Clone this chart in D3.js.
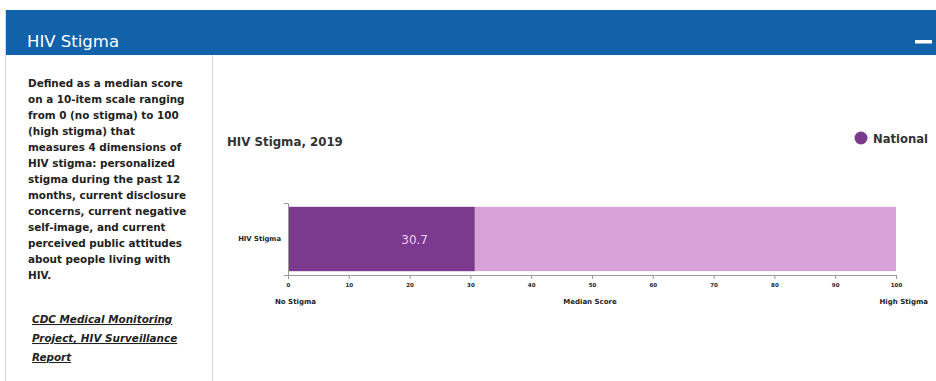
<!DOCTYPE html>
<html>
<head>
<meta charset="utf-8">
<script src="https://cdn.jsdelivr.net/npm/d3@7"></script>
<style>
  body { margin: 0; background: #fff; }
  svg { display: block; }
</style>
</head>
<body>
<svg id="chart" width="936" height="381"></svg>
<script>
// data
const categories = ['HIV Stigma'];
const nationalValues = [30.7];
const scaleMax = 100;
const xTicks = [0, 10, 20, 30, 40, 50, 60, 70, 80, 90, 100];
const seriesNames = ['National'];
const descLines = [
  'Defined as a median score',
  'on a 10-item scale ranging',
  'from 0 (no stigma) to 100',
  '(high stigma) that',
  'measures 4 dimensions of',
  'HIV stigma: personalized',
  'stigma during the past 12',
  'months, current disclosure',
  'concerns, current negative',
  'self-image, and current',
  'perceived public attitudes',
  'about people living with',
  'HIV.'
];
const linkLines = ['CDC Medical Monitoring', 'Project, HIV Surveillance', 'Report'];

const svg = d3.select('#chart');
const font = '"DejaVu Sans", Verdana, sans-serif';

// card + header
svg.append('rect')
  .attr('x', 5.5).attr('y', 10.5).attr('width', 940).attr('height', 380)
  .attr('fill', '#fff').attr('stroke', '#d6d6d6');
svg.append('rect')
  .attr('x', 6).attr('y', 10).attr('width', 930).attr('height', 45)
  .attr('fill', '#1162a9');
svg.append('text')
  .attr('x', 27).attr('y', 47)
  .attr('fill', '#fff').attr('font-family', font).attr('font-size', 16.5)
  .text('HIV Stigma');
svg.append('rect')
  .attr('x', 915).attr('y', 40).attr('width', 17).attr('height', 3.5)
  .attr('fill', '#fff');

// left panel
svg.append('line')
  .attr('x1', 212.5).attr('x2', 212.5).attr('y1', 55).attr('y2', 381)
  .attr('stroke', '#d6d6d6');

svg.append('g').selectAll('text')
  .data(descLines)
  .join('text')
  .attr('x', 28)
  .attr('y', (d, i) => 87 + i * 16)
  .attr('font-family', font).attr('font-weight', 700).attr('font-size', 10.4)
  .attr('fill', '#222')
  .text(d => d);

svg.append('g').selectAll('text')
  .data(linkLines)
  .join('text')
  .attr('x', 32)
  .attr('y', (d, i) => 323 + i * 19)
  .attr('font-family', font).attr('font-weight', 700).attr('font-style', 'italic')
  .attr('font-size', 10.4).attr('text-decoration', 'underline')
  .attr('fill', '#222')
  .text(d => d);

// chart
const x = d3.scaleLinear().domain([0, scaleMax]).range([288, 896]);
const y = d3.scaleBand().domain(categories).range([203, 275]).paddingInner(0).paddingOuter(0.06);

svg.append('text')
  .attr('x', 227).attr('y', 146)
  .attr('font-family', font).attr('font-weight', 700).attr('font-size', 11.8)
  .attr('fill', '#333')
  .text('HIV Stigma, 2019');

// legend
const legend = svg.append('g').selectAll('g').data(seriesNames).join('g');
legend.append('circle')
  .attr('cx', 861).attr('cy', 138).attr('r', 6.5)
  .attr('fill', '#7b3a8e');
legend.append('text')
  .attr('x', 873).attr('y', 142.5)
  .attr('font-family', font).attr('font-weight', 700).attr('font-size', 11.6)
  .attr('fill', '#333')
  .text(d => d);

// background bar (full scale)
svg.append('g').selectAll('rect')
  .data(categories)
  .join('rect')
  .attr('x', x(0)).attr('y', d => y(d))
  .attr('width', x(scaleMax) - x(0)).attr('height', y.bandwidth())
  .attr('fill', '#d9a3da');

// value bars
svg.append('g').selectAll('rect')
  .data(nationalValues)
  .join('rect')
  .attr('x', x(0)).attr('y', (d, i) => y(categories[i]))
  .attr('width', d => x(d) - x(0)).attr('height', y.bandwidth())
  .attr('fill', '#7b3a8e');

svg.append('g').selectAll('text')
  .data(nationalValues)
  .join('text')
  .attr('x', d => x(d) - 60)
  .attr('y', (d, i) => y(categories[i]) + y.bandwidth() / 2 + 4.5)
  .attr('text-anchor', 'middle')
  .attr('font-family', font).attr('font-size', 12)
  .attr('fill', '#e9cdee')
  .text(d => d.toFixed(1));

// axes
const xAxis = svg.append('g')
  .attr('transform', 'translate(0,275)')
  .call(d3.axisBottom(x).tickValues(xTicks).tickSize(4).tickPadding(4));
xAxis.select('.domain').attr('stroke', '#999');
xAxis.selectAll('.tick line').attr('stroke', '#999');
xAxis.selectAll('text').attr('font-family', font).attr('font-weight', 700)
  .attr('font-size', 5.5).attr('fill', '#222');

const yAxis = svg.append('g')
  .attr('transform', 'translate(288,0)')
  .call(d3.axisLeft(y).tickSize(0).tickPadding(7));
yAxis.select('.domain').attr('stroke', '#999')
  .attr('d', 'M-4,203.5H0.5V275.5H-4');
yAxis.selectAll('text').attr('font-family', font).attr('font-weight', 700)
  .attr('font-size', 6.8).attr('fill', '#222');

// axis captions
const captions = [
  { t: 'No Stigma', x: 275, a: 'start' },
  { t: 'Median Score', x: 590, a: 'middle' },
  { t: 'High Stigma', x: 928, a: 'end' }
];
svg.append('g').selectAll('text')
  .data(captions)
  .join('text')
  .attr('x', d => d.x).attr('y', 304)
  .attr('text-anchor', d => d.a)
  .attr('font-family', font).attr('font-weight', 700).attr('font-size', 7)
  .attr('fill', '#222')
  .text(d => d.t);
</script>
</body>
</html>
